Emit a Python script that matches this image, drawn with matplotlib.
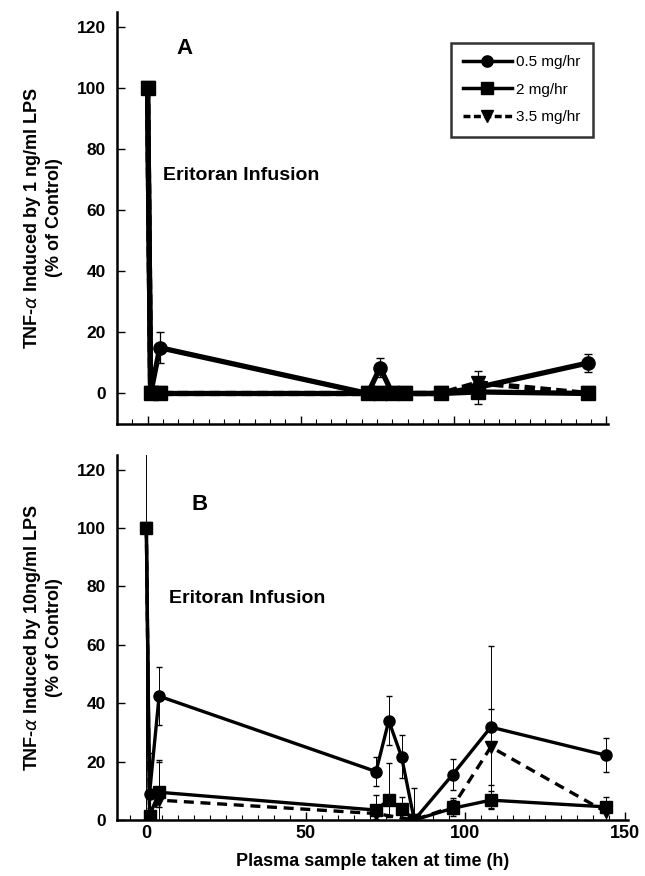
import matplotlib
matplotlib.use("Agg")
import matplotlib.pyplot as plt
import numpy as np
from matplotlib.ticker import MultipleLocator

plt.rcParams['font.family'] = ['Liberation Sans', 'DejaVu Sans']

# sampling times (h)
times = [0, 1, 4, 72, 76, 80, 84, 96, 108, 144]
times_b_35 = [0, 1, 4, 72, 84, 96, 108, 144]

# panel A: 1 ng/ml LPS
a_05 = [100, 0, 15, 0, 8.5, 0, 0, 0, 2, 10]
a_05_err = [0, 0, 5, 0, 3.2, 0, 0, 0, 5.5, 3.1]
a_2 = [100, 0, 0, 0, 0, 0, 0, 0, 0.5, 0]
a_2_err = [0, 0, 0, 0, 0, 0, 0, 0, 0, 0]
a_35 = [100, 0, 0, 0, 0, 0, 0, 0, 3.5, 0]
a_35_err = [0, 0, 0, 0, 0, 0, 0, 0, 1.5, 0]

# panel B: 10 ng/ml LPS
b_05 = [100, 9, 42.4, 16.6, 34, 21.7, 0, 15.5, 31.8, 22.2]
b_05_err = [0, 14, 10, 5, 8.4, 7.3, 11, 5.3, 27.7, 5.8]
b_2 = [100, 1.5, 9.5, 3.4, 7, 3.8, 0, 4, 6.8, 4.5]
b_2_err_lo = [100, 1.5, 5, 2, 6, 3, 0, 2, 3, 2]
b_2_err_hi = [30, 6, 11, 5, 12.5, 4, 0, 3, 3, 3.5]
b_35 = [100, 1, 6.8, 2.2, 0, 4.5, 25, 2.8]
b_35_err = [0, 3, 13, 2, 0, 3, 13, 3]

labels = ['0.5 mg/hr', '2 mg/hr', '3.5 mg/hr']

fig = plt.figure(figsize=(6.45, 8.76), dpi=100)
axA = fig.add_axes([117/645, 1 - 424/876, (608-117)/645, (424-12)/876])
axB = fig.add_axes([117/645, 1 - 820/876, (628-117)/645, (820-455)/876])


def style(ax, xlim, ylim):
    ax.set_xlim(*xlim)
    ax.set_ylim(*ylim)
    for s in ['top', 'right']:
        ax.spines[s].set_visible(False)
    for s in ['left', 'bottom']:
        ax.spines[s].set_linewidth(1.8)
    ax.xaxis.set_major_locator(MultipleLocator(50))
    ax.xaxis.set_minor_locator(MultipleLocator(5))
    ax.yaxis.set_major_locator(MultipleLocator(20))
    ax.tick_params(axis='both', which='major', direction='in', length=6, width=1)
    ax.tick_params(axis='y', pad=8)
    ax.tick_params(axis='x', which='minor', direction='in', length=3.5, width=0.8)
    for lab in ax.get_yticklabels():
        lab.set_fontweight('bold')
        lab.set_fontsize(12.5)


# ---- panel A ----
style(axA, (-10, 150.5), (-10, 125))
lwA, msA = 3.8, 9.5
axA.errorbar(times, a_35, yerr=a_35_err, color='black', lw=lwA, ls=(0, (2, 1)),
             marker='v', ms=msA, elinewidth=0.9, capsize=3, label=labels[2], zorder=2)
axA.errorbar(times, a_2, yerr=a_2_err, color='black', lw=lwA, marker='s', ms=msA,
             elinewidth=0.9, capsize=3, label=labels[1], zorder=3)
axA.errorbar(times, a_05, yerr=a_05_err, color='black', lw=lwA, marker='o', ms=msA,
             elinewidth=0.9, capsize=3, label=labels[0], zorder=4)
axA.set_xticklabels([])
axA.set_ylabel('TNF-$\\alpha$ Induced by 1 ng/ml LPS\n(% of Control)',
               fontsize=13, fontweight='bold', labelpad=10)
axA.text(9.5, 113, 'A', fontsize=16, fontweight='bold', va='center')
axA.text(5, 71.5, 'Eritoran Infusion', fontsize=14, fontweight='bold', va='center')

h, l = axA.get_legend_handles_labels()
order = [2, 1, 0]
leg = axA.legend([h[i][0] for i in order], [l[i] for i in order],
                 loc='upper left', bbox_to_anchor=(443/645, 1 - 35/876),
                 bbox_transform=fig.transFigure, fontsize=11, frameon=True,
                 fancybox=False, edgecolor='black', handlelength=3.2,
                 handletextpad=0.3, labelspacing=0.9, borderpad=0.8,
                 markerscale=0.85)
leg.get_frame().set_linewidth(1.8)
for line in leg.get_lines():
    line.set_linewidth(2.5)

# ---- panel B ----
style(axB, (-9.2, 151), (0, 125))
lwB, msB = 2.4, 8
axB.errorbar(times_b_35, b_35, yerr=b_35_err, color='black', lw=lwB, ls=(0, (3, 2)),
             marker='v', ms=msB, elinewidth=0.7, capsize=2.5, zorder=2)
axB.errorbar(times, b_2, yerr=[b_2_err_lo, b_2_err_hi], color='black', lw=lwB,
             marker='s', ms=msB, elinewidth=0.7, capsize=2.5, zorder=3)
axB.errorbar(times, b_05, yerr=b_05_err, color='black', lw=lwB, marker='o', ms=msB,
             elinewidth=0.7, capsize=2.5, zorder=4)
for lab in axB.get_xticklabels():
    lab.set_fontweight('bold')
    lab.set_fontsize(13)
axB.set_ylabel('TNF-$\\alpha$ Induced by 10ng/ml LPS\n(% of Control)',
               fontsize=13, fontweight='bold', labelpad=10)
axB.set_xlabel('Plasma sample taken at time (h)', fontsize=13,
               fontweight='bold', labelpad=8)
axB.text(14, 108, 'B', fontsize=16, fontweight='bold', va='center')
axB.text(7, 76, 'Eritoran Infusion', fontsize=14, fontweight='bold', va='center')

fig.savefig('out.png', dpi=100)
